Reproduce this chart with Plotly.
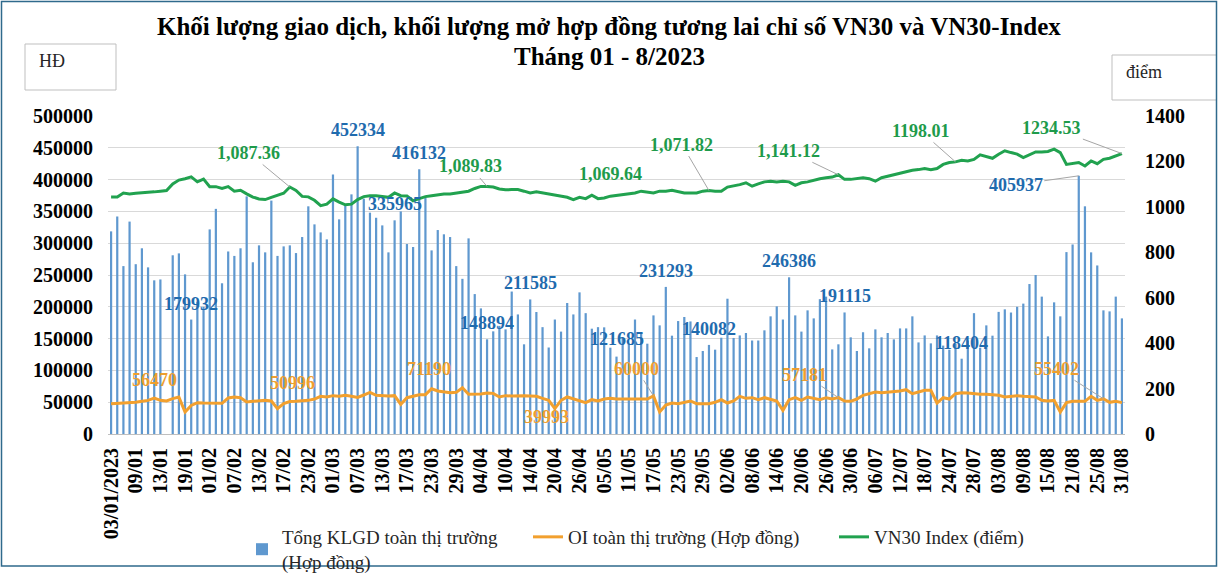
import plotly.graph_objects as go

# ---------------- data ----------------
dates = ["03/01/2023", "04/01", "05/01", "06/01", "09/01", "10/01", "11/01", "12/01", "13/01", "16/01",
         "17/01", "18/01", "19/01", "27/01", "30/01", "31/01",
         "01/02", "02/02", "03/02", "06/02", "07/02", "08/02", "09/02", "10/02", "13/02", "14/02",
         "15/02", "16/02", "17/02", "20/02", "21/02", "22/02", "23/02", "24/02", "27/02", "28/02",
         "01/03", "02/03", "03/03", "06/03", "07/03", "08/03", "09/03", "10/03", "13/03", "14/03",
         "15/03", "16/03", "17/03", "20/03", "21/03", "22/03", "23/03", "24/03", "27/03", "28/03",
         "29/03", "30/03", "31/03",
         "03/04", "04/04", "05/04", "06/04", "07/04", "10/04", "11/04", "12/04", "13/04", "14/04",
         "17/04", "18/04", "19/04", "20/04", "21/04", "24/04", "25/04", "26/04", "27/04", "28/04",
         "04/05", "05/05", "08/05", "09/05", "10/05", "11/05", "12/05", "15/05", "16/05", "17/05",
         "18/05", "19/05", "22/05", "23/05", "24/05", "25/05", "26/05", "29/05", "30/05", "31/05",
         "01/06", "02/06", "05/06", "06/06", "07/06", "08/06", "09/06", "12/06", "13/06", "14/06",
         "15/06", "16/06", "19/06", "20/06", "21/06", "22/06", "23/06", "26/06", "27/06", "28/06",
         "29/06", "30/06",
         "03/07", "04/07", "05/07", "06/07", "07/07", "10/07", "11/07", "12/07", "13/07", "14/07",
         "17/07", "18/07", "19/07", "20/07", "21/07", "24/07", "25/07", "26/07", "27/07", "28/07",
         "31/07",
         "01/08", "02/08", "03/08", "04/08", "07/08", "08/08", "09/08", "10/08", "11/08", "14/08",
         "15/08", "16/08", "17/08", "18/08", "21/08", "22/08", "23/08", "24/08", "25/08", "28/08",
         "29/08", "30/08", "31/08"]

klgd = [318600, 342000, 264000, 334000, 267000, 292000, 262000, 241600, 243000, None,
        281000, 284000, 251000, 179932, 208000, 200000, 321700, 354000, 237000, 287000,
        280000, 292000, 373600, 270000, 296600, 285600, 367000, 280000, 295000, 296600,
        284500, 309700, 358000, 329600, 317000, 306000, 408000, 337500, 359500, 376800,
        452334, 370000, 348000, 340000, 328000, 285600, 335965, 350000, 298700, 294000,
        416132, 371000, 288700, 320700, 314000, 309700, 264000, 244000, 307600, 220000,
        197500, 148894, 161400, 170000, 164500, 224000, 188000, 141000, 211585, 191800,
        168000, 136000, 180000, 161000, 206000, 188000, 222700, 190000, 165600, 168000,
        167700, 135700, 121685, 150000, 142000, 180000, 159000, 142000, 186500, 170800,
        231293, 154600, 177600, 184000, 177000, 121000, 130500, 140082, 132600, 151400,
        212700, 151000, 155000, 158800, 147000, 147000, 163000, 185000, 200700, 180000,
        246386, 186500, 161000, 194400, 181800, 212000, 216000, 133000, 141000, 191115,
        152000, 130500, 160000, 134700, 164500, 152000, 158800, 148800, 166000, 166000,
        185000, 144000, 155000, 142500, 155000, 139000, 132600, 142000, 118404, 147000,
        190000, 135700, 170800, 154600, 192000, 196000, 191000, 200000, 205000, 235800,
        250000, 216000, 153500, 207000, 185000, 286000, 298000, 405937, 358000, 285600,
        265000, 194400, 192800, 216000, 181800]

oi = [47700, 48200, 48700, 49300, 49800, 51400, 52900, 56470, 53000, 51900,
      55600, 58000, 34600, 45000, 49300, 48700, 48700, 49000, 48200, 56600,
      58000, 57100, 50300, 51500, 52500, 52900, 51900, 39800, 47700, 50996,
      51400, 51900, 52900, 55000, 59200, 58200, 60300, 59200, 60800, 59200,
      57600, 61300, 65500, 60800, 59700, 59700, 60300, 46600, 57100, 59700,
      61800, 61800, 71190, 67600, 66000, 65000, 65500, 72800, 62400, 62400,
      62900, 64500, 63900, 58200, 60300, 59700, 60300, 60300, 59700, 59200,
      56100, 52900, 39993, 52900, 58200, 55000, 51900, 49300, 54000, 51900,
      55000, 56100, 55000, 55000, 55000, 55000, 54000, 55000, 60000, 34600,
      45600, 48700, 47700, 49800, 51900, 47700, 47700, 47700, 49800, 54000,
      48700, 51900, 59200, 56100, 57100, 54000, 57100, 54000, 51900, 37200,
      54000, 57100, 52900, 58200, 55500, 54000, 57100, 55000, 57181, 51900,
      51400, 55000, 60800, 63400, 66000, 65000, 66000, 66000, 67600, 69700,
      63400, 66000, 68600, 68600, 48700, 57100, 55000, 63400, 65000, 64500,
      63400, 62400, 62400, 61300, 60800, 58200, 59200, 60300, 59200, 58200,
      58200, 52900, 51900, 52900, 34600, 49300, 51400, 51400, 51400, 59200,
      52900, 55402, 49800, 51400, 49300]

vn30 = [1043, 1043, 1061, 1057, 1060, 1061, 1064, 1066, 1069, 1072,
        1101, 1118, 1124, 1132, 1110, 1122, 1089, 1089, 1081, 1089,
        1069, 1073, 1057, 1043, 1035, 1032, 1042, 1051, 1060, 1087.36,
        1072, 1046, 1044, 1029, 1005, 1012, 1035, 1021, 1009, 1012,
        1032, 1045, 1049, 1049, 1045, 1042, 1061, 1049, 1048, 1027,
        1036, 1045, 1049, 1054, 1057, 1057, 1061, 1066, 1069, 1081,
        1090, 1089.83, 1087, 1079, 1075, 1076, 1076, 1069, 1061, 1066,
        1061, 1057, 1054, 1047, 1042, 1032, 1042, 1036, 1051, 1036,
        1039, 1047, 1050, 1054, 1057, 1061, 1069, 1066, 1061, 1069,
        1069, 1073, 1066, 1061, 1061, 1061, 1069, 1071.82, 1069, 1069,
        1087, 1091, 1098, 1106, 1091, 1101, 1110, 1113, 1110, 1113,
        1110, 1095, 1106, 1110, 1118, 1124, 1128, 1131, 1141.12, 1121,
        1121, 1124, 1128, 1124, 1113, 1128, 1135, 1140, 1150, 1155,
        1161, 1164, 1169, 1164, 1169, 1187, 1195, 1198.01, 1205, 1202,
        1209, 1229, 1220, 1214, 1232, 1247, 1239, 1232, 1217, 1229,
        1242, 1242, 1244, 1254, 1239, 1187, 1190, 1195, 1180, 1202,
        1190, 1209, 1214, 1224, 1234.53]

tick_labels = dates[::4]
label_1069 = "1,069.64"

# ---------------- layout helpers ----------------
W, H = 1218, 577
ML, MR, MT, MB = 108, 93, 116, 143
PW = W - ML - MR
PH = H - MT - MB


def px(x):
    return (x - ML) / PW


def py(y):
    return (H - MB - y) / PH


SERIF = "Liberation Serif"
BLUE_T = "#1F6BAE"
GREEN_T = "#1E9B4B"
ORANGE_T = "#EE9F2F"

fig = go.Figure()
fig.add_trace(go.Bar(x=dates, y=klgd, name="Tổng KLGD toàn thị trường<br>(Hợp đồng)",
                     marker=dict(color="#5F98CF", line=dict(width=0)), width=0.36, legend="legend"))
fig.add_trace(go.Scatter(x=dates, y=oi, name="OI toàn thị trường (Hợp đồng)", mode="lines",
                         line=dict(color="#F2A02E", width=3), legend="legend2"))
fig.add_trace(go.Scatter(x=dates, y=vn30, name="VN30 Index (điểm)", mode="lines",
                         line=dict(color="#21A24F", width=3), yaxis="y2", legend="legend3"))

anns = []


def lab(i, text, color, y, yref="y", xshift=0, yshift=0, ax=None, ay=None):
    d = dict(x=dates[i], y=y, xref="x", yref=yref,
             text="<b>%s</b>" % text, font=dict(family=SERIF, size=18, color=color))
    if ax is None:
        d.update(showarrow=False, xshift=xshift, yshift=yshift)
    else:
        d.update(showarrow=True, ax=ax, ay=ay, axref="pixel", ayref="pixel", arrowhead=0,
                 arrowwidth=1, arrowcolor="#A5A5A5", standoff=0, startstandoff=0)
    return d


# blue bar labels
for i in [13, 40, 46, 50, 61, 68, 90, 97, 110, 119, 138]:
    anns.append(lab(i, str(klgd[i]), BLUE_T, klgd[i], yshift=16))
anns.append(lab(82, str(klgd[82]), BLUE_T, klgd[82], yshift=18))
anns.append(lab(157, str(klgd[157]), BLUE_T, klgd[157], ax=-63, ay=9))

# orange OI labels
for i, xs, ys in [(7, 0, 18.5), (29, 3, 19), (52, -3, 19.5), (72, -8, -8)]:
    anns.append(lab(i, str(oi[i]), ORANGE_T, oi[i], xshift=xs, yshift=ys))
for i, ax, ay in [(88, -17, -27), (118, -34, -23), (161, -47, -30)]:
    anns.append(lab(i, str(oi[i]), ORANGE_T, oi[i], ax=ax, ay=ay))

# green VN30 labels
for i, ax, ay in [(29, -41, -34), (61, -17, -20), (97, -27, -46), (118, -50, -24)]:
    anns.append(lab(i, f"{vn30[i]:,.2f}", GREEN_T, vn30[i], yref="y2", ax=ax, ay=ay))
for i, ax, ay in [(137, -35, -31), (164, -70, -26)]:
    anns.append(lab(i, f"{vn30[i]:.2f}", GREEN_T, vn30[i], yref="y2", ax=ax, ay=ay))
anns.append(lab(81, label_1069, GREEN_T, vn30[81], yref="y2", yshift=22))

# title (two lines)
title_lines = ["Khối lượng giao dịch, khối lượng mở hợp đồng tương lai chỉ số VN30 và VN30-Index",
               "Tháng 01 - 8/2023"]
for t, yy in zip(title_lines, [27, 57]):
    anns.append(dict(x=px(609), y=py(yy), xref="paper", yref="paper", xanchor="center", yanchor="middle",
                     text="<b>%s</b>" % t, showarrow=False,
                     font=dict(family=SERIF, size=25, color="#000000")))

# unit boxes text
anns.append(dict(x=px(37), y=py(61), xref="paper", yref="paper", text="HĐ", showarrow=False,
                 xanchor="left", yanchor="middle", font=dict(family=SERIF, size=18, color="#262626")))
anns.append(dict(x=px(1124), y=py(72), xref="paper", yref="paper", text="điểm", showarrow=False,
                 xanchor="left", yanchor="middle", font=dict(family=SERIF, size=18, color="#262626")))

shapes = [
    dict(type="rect", xref="paper", yref="paper", x0=px(25), x1=px(116), y0=py(44), y1=py(90),
         line=dict(color="#BFBFBF", width=1)),
    dict(type="rect", xref="paper", yref="paper", x0=px(1112), x1=px(1216.5), y0=py(55), y1=py(100),
         line=dict(color="#BFBFBF", width=1)),
    dict(type="rect", xref="paper", yref="paper", x0=px(1.5), x1=px(1216.5), y0=py(1.5), y1=py(566),
         line=dict(color="#2F6A8C", width=1.5)),
]

tickfont = dict(family=SERIF, size=20, color="#000000", weight="bold")
legfont = dict(family=SERIF, size=19, color="#262626")


def leg(text_x):
    return dict(orientation="h", xref="container", yref="container", x=(text_x - 41) / W,
                y=1 - 518 / H, xanchor="left", yanchor="top", font=legfont,
                bgcolor="rgba(0,0,0,0)")


fig.update_layout(
    width=W, height=H,
    margin=dict(l=ML, r=MR, t=MT, b=MB, autoexpand=False),
    paper_bgcolor="white", plot_bgcolor="white",
    xaxis=dict(type="category", categoryorder="array", categoryarray=dates,
               tickmode="array", tickvals=tick_labels, ticktext=tick_labels,
               tickangle=-90, tickfont=tickfont, showgrid=False, showline=True,
               linecolor="#BFBFBF", ticks="", ticklabelstandoff=5, automargin=False,
               range=[-0.5, len(dates) - 0.5]),
    yaxis=dict(range=[0, 500000], dtick=50000, tickformat="d", tickfont=tickfont,
               gridcolor="#D9D9D9", gridwidth=1, zeroline=False, showline=False,
               ticks="", ticklabelstandoff=14, automargin=False),
    yaxis2=dict(range=[0, 1400], dtick=200, overlaying="y", side="right", showgrid=False,
                zeroline=False, tickfont=tickfont, ticks="outside", ticklen=15,
                tickcolor="rgba(0,0,0,0)", automargin=False),
    legend=leg(283),
    legend2=leg(569),
    legend3=leg(875),
    bargap=0.6,
    annotations=anns,
    shapes=shapes,
    showlegend=True,
)

fig.write_html("out.html", config={"displayModeBar": False},
               post_script="document.body.style.margin='0px';"
                           "document.body.style.padding='0px';")
